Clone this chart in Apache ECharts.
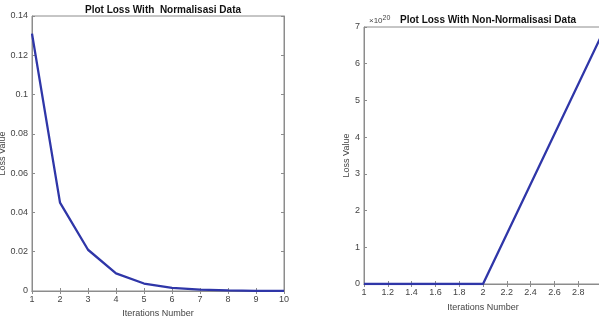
<!DOCTYPE html>
<html>
<head>
<meta charset="utf-8">
<script src="https://cdn.jsdelivr.net/npm/echarts@6/dist/echarts.min.js"></script>
<style>
  html, body { margin: 0; padding: 0; background: #fff; }
  #chart { width: 599px; height: 323px; }
</style>
</head>
<body>
<div id="chart"></div>
<script>
// left plot: loss with normalised data
const iterNorm = [1, 2, 3, 4, 5, 6, 7, 8, 9, 10];
const lossNorm = [0.131, 0.045, 0.021, 0.009, 0.0038, 0.0016, 0.0007, 0.0003, 0.0001, 0.00005];
// right plot: loss with non-normalised data (values in units of 1e20)
const iterRaw = [1, 2, 3];
const lossRaw = [0, 0, 6.8];

const FONT = '"Liberation Sans Narrow", "Liberation Sans", Arial, sans-serif';
const LINE = '#2f36a8';
const BOX = '#8c8c8c';
const LBL = '#444';

const fmt = v => String(parseFloat(v.toFixed(2)));

const axisBase = (show) => ({
  axisLine: { show: true, lineStyle: { color: BOX, width: 1 } },
  axisTick: { show: true, inside: true, length: 3, lineStyle: { color: BOX } },
  axisLabel: { show: show, color: LBL, fontSize: 9, fontFamily: FONT, margin: 4, formatter: fmt },
  splitLine: { show: false }
});

const chart = echarts.init(document.getElementById('chart'));
chart.setOption({
  animation: false,
  title: [
    { text: 'Plot Loss With  Normalisasi Data', left: 158, top: 0, textAlign: 'center',
      textStyle: { fontSize: 10, fontWeight: 'bold', color: '#111', fontFamily: FONT } },
    { text: 'Plot Loss With Non-Normalisasi Data', left: 483, top: 10, textAlign: 'center',
      textStyle: { fontSize: 10, fontWeight: 'bold', color: '#111', fontFamily: FONT } },
    { text: '×10{s|20}', left: 364, top: 10,
      textStyle: { fontSize: 8, fontWeight: 'normal', color: LBL, fontFamily: FONT,
        rich: { s: { fontSize: 7, color: LBL, fontFamily: FONT, verticalAlign: 'top', padding: [0, 0, 4, 0] } } } }
  ],
  grid: [
    { left: 32, top: 16, width: 252, height: 275, show: true, borderColor: BOX, borderWidth: 1,
      outerBoundsMode: 'none', containLabel: false },
    { left: 364, top: 27, width: 238, height: 257, show: true, borderColor: BOX, borderWidth: 1,
      outerBoundsMode: 'none', containLabel: false }
  ],
  xAxis: [
    Object.assign(axisBase(true), { type: 'value', gridIndex: 0, min: 1, max: 10, interval: 1,
      name: 'Iterations Number', nameLocation: 'middle', nameGap: 17,
      nameTextStyle: { fontSize: 9, color: LBL, fontFamily: FONT } }),
    Object.assign(axisBase(false), { type: 'value', gridIndex: 0, min: 1, max: 10, interval: 1, position: 'top' }),
    Object.assign(axisBase(true), { type: 'value', gridIndex: 1, min: 1, max: 3, interval: 0.2,
      name: 'Iterations Number', nameLocation: 'middle', nameGap: 19,
      nameTextStyle: { fontSize: 9, color: LBL, fontFamily: FONT } }),
    Object.assign(axisBase(false), { type: 'value', gridIndex: 1, min: 1, max: 3, interval: 0.2, position: 'top' })
  ],
  yAxis: [
    Object.assign(axisBase(true), { type: 'value', gridIndex: 0, min: 0, max: 0.14, interval: 0.02,
      name: 'Loss Value', nameLocation: 'middle', nameGap: 18,
      nameTextStyle: { fontSize: 9, color: LBL, fontFamily: FONT } }),
    Object.assign(axisBase(false), { type: 'value', gridIndex: 0, min: 0, max: 0.14, interval: 0.02, position: 'right' }),
    Object.assign(axisBase(true), { type: 'value', gridIndex: 1, min: 0, max: 7, interval: 1,
      name: 'Loss Value', nameLocation: 'middle', nameGap: 11,
      nameTextStyle: { fontSize: 9, color: LBL, fontFamily: FONT } }),
    Object.assign(axisBase(false), { type: 'value', gridIndex: 1, min: 0, max: 7, interval: 1, position: 'right' })
  ],
  series: [
    { type: 'line', xAxisIndex: 0, yAxisIndex: 0, showSymbol: false,
      lineStyle: { color: LINE, width: 2.3 },
      data: iterNorm.map((x, i) => [x, lossNorm[i]]) },
    { type: 'line', xAxisIndex: 2, yAxisIndex: 2, showSymbol: false,
      lineStyle: { color: LINE, width: 2.3 },
      data: iterRaw.map((x, i) => [x, lossRaw[i]]) }
  ]
});
</script>
</body>
</html>
